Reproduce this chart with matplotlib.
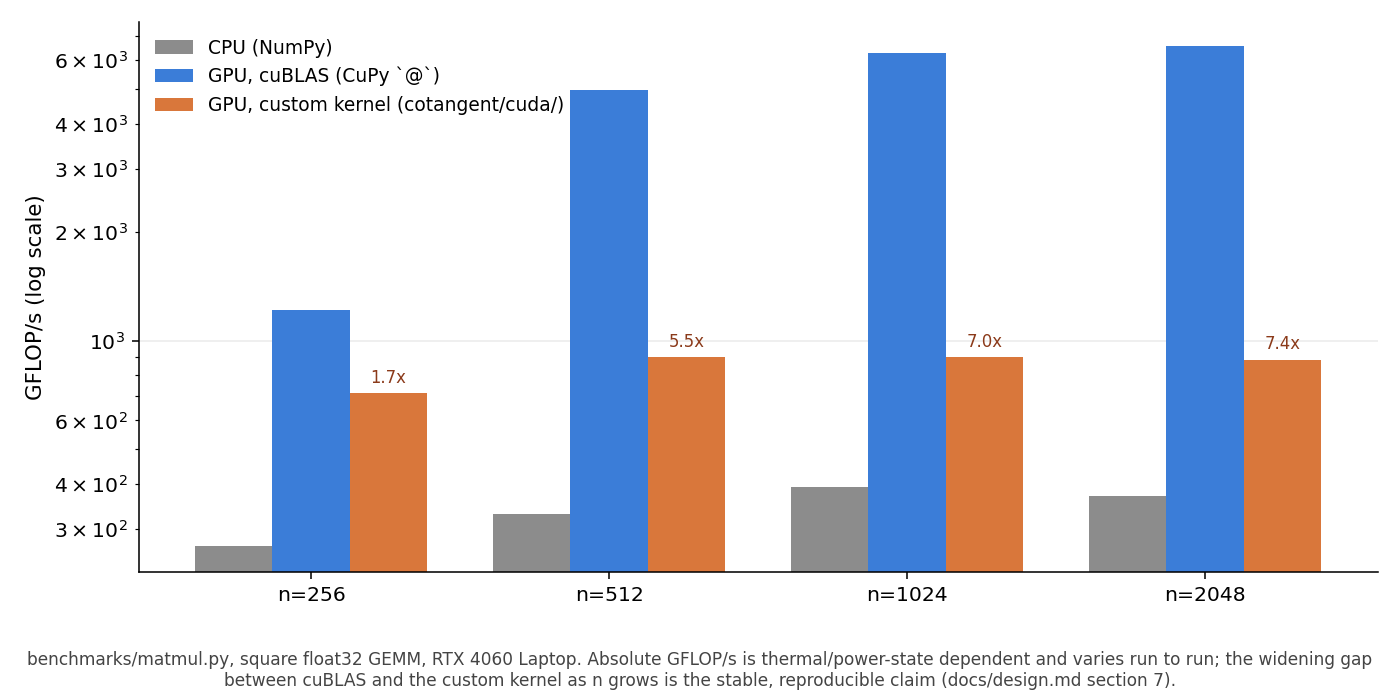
import matplotlib
matplotlib.use("Agg")
import matplotlib.pyplot as plt
from matplotlib.ticker import LogFormatterSciNotation
import numpy as np

sizes = ["n=256", "n=512", "n=1024", "n=2048"]
cpu_gflops = [268, 330, 393, 369]
cublas_gflops = [1219, 4950, 6300, 6562]
custom_gflops = [713, 900, 900, 885]

labels = ["CPU (NumPy)", "GPU, cuBLAS (CuPy `@`)", "GPU, custom kernel (cotangent/cuda/)"]
colors = ["#8c8c8c", "#3b7dd8", "#d9773b"]

footer = ("benchmarks/matmul.py, square float32 GEMM, RTX 4060 Laptop. Absolute GFLOP/s is "
          "thermal/power-state dependent and varies run to run; the widening gap\n"
          "between cuBLAS and the custom kernel as n grows is the stable, reproducible "
          "claim (docs/design.md section 7).")

x = np.arange(len(sizes))
width = 0.26

fig, ax = plt.subplots(figsize=(10, 5), dpi=140)
fig.subplots_adjust(left=0.099, right=0.984, top=0.969, bottom=0.183)

ax.bar(x - width, cpu_gflops, width=width, color=colors[0], label=labels[0])
ax.bar(x, cublas_gflops, width=width, color=colors[1], label=labels[1])
bars = ax.bar(x + width, custom_gflops, width=width, color=colors[2], label=labels[2])

ax.set_yscale("log")
ax.set_ylim(min(cpu_gflops) * 0.85, max(cublas_gflops) * 1.17)
ax.yaxis.set_minor_formatter(LogFormatterSciNotation(labelOnlyBase=False, minor_thresholds=(2, 0.4)))

# speedup of cuBLAS over the custom kernel
for b, cu, cs in zip(bars, cublas_gflops, custom_gflops):
    ax.text(b.get_x() + b.get_width() / 2, cs * 1.04, f"{cu / cs:.1f}x",
            ha="center", va="bottom", fontsize=8.5, color="#8b3a1a")

ax.set_xticks(x)
ax.set_xticklabels(sizes)
ax.tick_params(axis="both", which="both", labelsize=10.5)
ax.set_ylabel("GFLOP/s (log scale)", fontsize=11)
ax.grid(axis="y", which="major", alpha=0.25)
ax.set_axisbelow(True)
ax.spines["top"].set_visible(False)
ax.spines["right"].set_visible(False)
ax.legend(loc="upper left", frameon=False, fontsize=9.6)

fig.text(0.5, 0.014, footer, ha="center", va="bottom", fontsize=8.75, color="#444444")

fig.savefig("out.png")
